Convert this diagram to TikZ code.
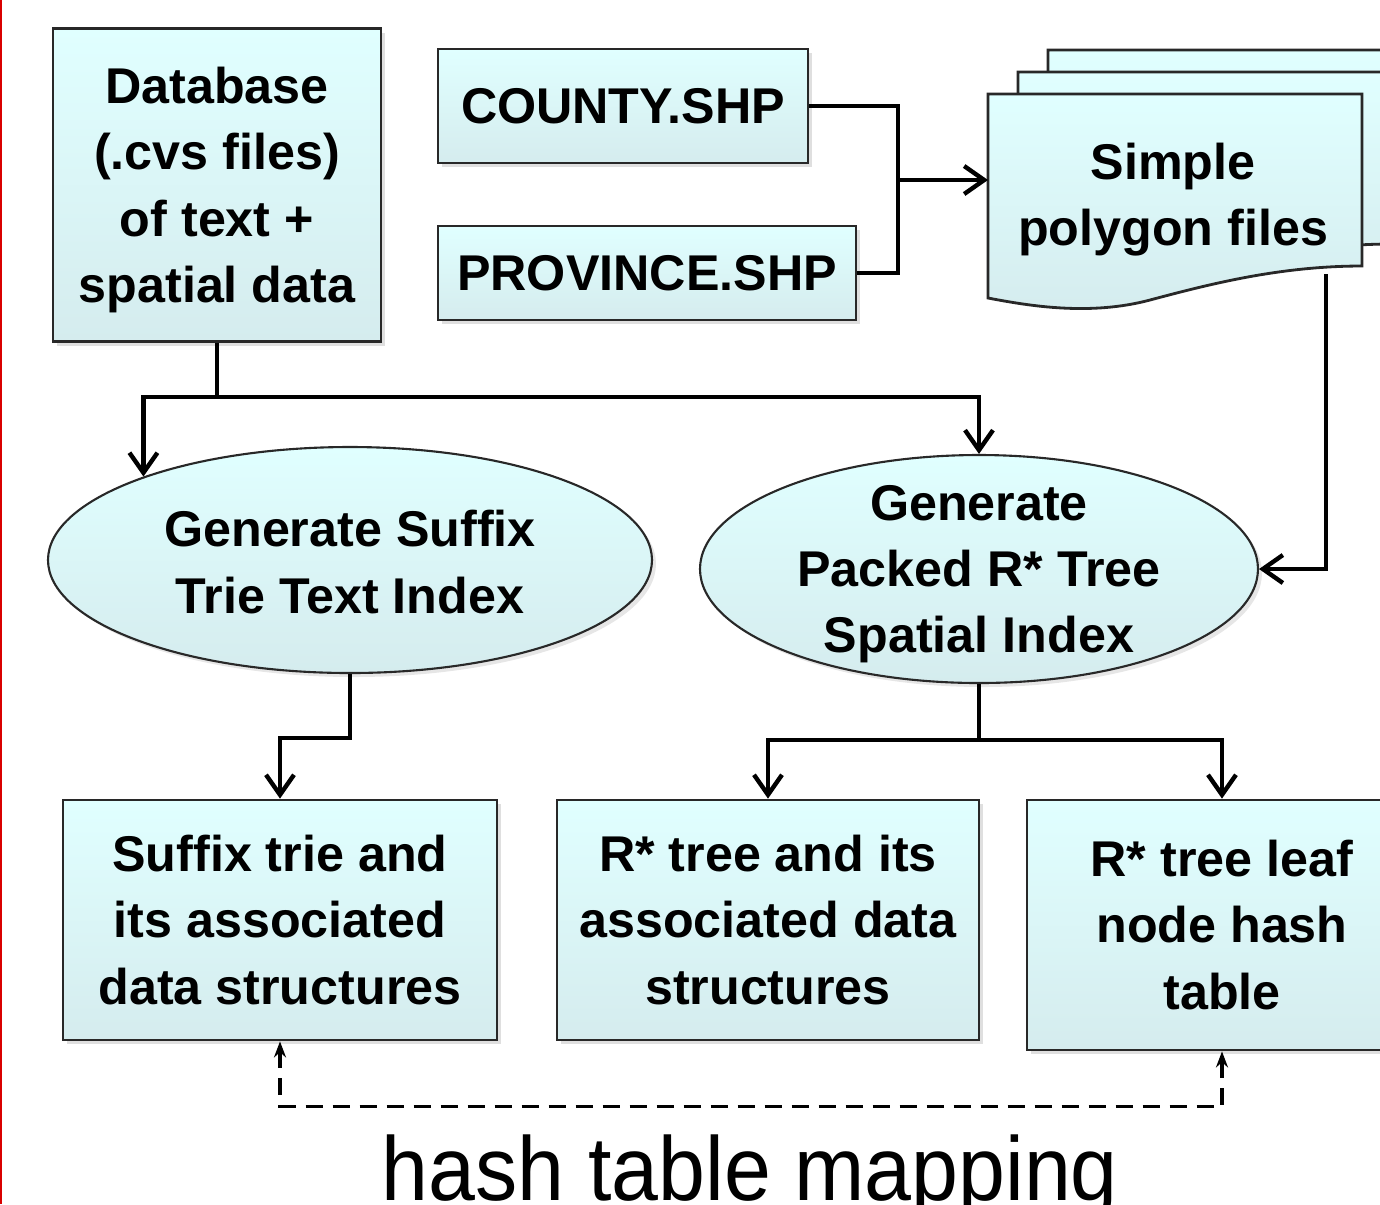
\documentclass[tikz,border=0pt]{standalone}
\usepackage{fontspec}
\setmainfont{Liberation Sans}
\usetikzlibrary{arrows.meta,shapes.geometric,shadows}

\definecolor{boxtop}{RGB}{224,255,255}
\definecolor{boxbot}{RGB}{213,236,238}
\definecolor{edge}{RGB}{40,40,40}

\tikzset{
  txt/.style={font=\bfseries\fontsize{14.3}{18.8}\selectfont, align=center, text=black},
  block/.style={txt, draw=edge, line width=0.8pt, top color=boxtop, bottom color=boxbot,
    inner sep=1pt, drop shadow={opacity=0.25, shadow xshift=0.4mm, shadow yshift=-0.4mm}},
  proc/.style={ellipse, draw=edge, line width=0.6pt, top color=boxtop, bottom color=boxbot,
    inner sep=0pt, drop shadow={opacity=0.2, shadow xshift=0.4mm, shadow yshift=-0.4mm}},
  docpage/.style={draw=edge, line width=0.8pt, top color=boxtop, bottom color=boxbot},
  wire/.style={line width=1.25pt, draw=black},
  arr/.style={wire, -{Straight Barb[length=2mm,width=2.8mm]}},
  maparr/.style={line width=1.05pt, dash pattern=on 1.7mm off 1mm,
    {Stealth[length=1.6mm,width=1.2mm]}-{Stealth[length=1.6mm,width=1.2mm]}}
}

% one sheet of the stacked polygon files
\newcommand\polypage[1]{%
  \begin{scope}[shift={#1}]
    \path[docpage] (988,94) -- (1362,94) -- (1362,266)
      .. controls (1280,266) and (1210,284) .. (1150,300)
      .. controls (1090,316) and (1030,306) .. (988,298) -- cycle;
  \end{scope}}

\begin{document}
\begin{tikzpicture}[x=0.1mm, y=-0.1mm]
  \useasboundingbox (0,0) rectangle (1380,1204);
  \clip (0,0) rectangle (1380,1204);
  \draw[red!85!black, line width=0.6pt] (1,0) -- (1,1204);

  % inputs
  \node[block, minimum width=32.8mm, minimum height=31.3mm,
    label={[txt, yshift=-0.5mm]center:Database\\(.cvs files)\\of text +\\spatial data}] (db) at (217,185) {};
  \node[block, minimum width=37mm, minimum height=11.4mm] (county) at (623,106) {COUNTY.SHP};
  \node[block, minimum width=41.8mm, minimum height=9.4mm] (province) at (647,273) {PROVINCE.SHP};

  % stacked polygon files
  \polypage{(60,-44)}
  \polypage{(30,-22)}
  \polypage{(0,0)}
  \node[txt] (poly) at (1173,200) {Simple\\polygon files};
  \coordinate (polyin) at (988,180);
  \coordinate (polyout) at (1326,274);

  % index generation
  \node[proc, minimum width=60.4mm, minimum height=22.6mm,
    label={[txt, yshift=-0.2mm]center:Generate Suffix\\Trie Text Index}] (sufgen) at (350,560) {};
  \node[proc, minimum width=55.8mm, minimum height=22.8mm,
    label={[txt, yshift=-0.5mm]center:Generate\\Packed R* Tree\\Spatial Index}] (rgen) at (979,569) {};

  % outputs
  \node[block, minimum width=43.4mm, minimum height=24mm] (suftrie) at (280,920)
    {Suffix trie and\\its associated\\data structures};
  \node[block, minimum width=42.2mm, minimum height=24mm] (rtree) at (768,920)
    {R* tree and its\\associated data\\structures};
  \node[block, minimum width=39mm, minimum height=25mm] (rleaf) at (1222,925)
    {R* tree leaf\\node hash\\table};

  % connectors
  \coordinate (join) at (898,180);
  \draw[wire] (county.east) -| (join) |- (province.east);
  \draw[arr] (join) -- (polyin);

  \coordinate (dbsplit) at (217,397);
  \draw[wire] (db.south) -- (dbsplit);
  \draw[arr] (dbsplit) -| (sufgen.158.7);
  \draw[arr] (dbsplit) -| (rgen.north);
  \draw[arr] (polyout) |- (rgen.east);

  \draw[arr] (sufgen.south) -- ++(0,64) -| (suftrie.north);
  \coordinate (rsplit) at (979,740);
  \draw[wire] (rgen.south) -- (rsplit);
  \draw[arr] (rsplit) -| (rtree.north);
  \draw[arr] (rsplit) -| (rleaf.north);

  \draw[maparr] (suftrie.south) -- ++(0,65) -| (rleaf.south);
  \node[anchor=base, font=\fontsize{25.8}{26}\selectfont] (maplabel) at (750,1200)
    {\scalebox{0.93}[1]{hash table mapping}};
\end{tikzpicture}
\end{document}
